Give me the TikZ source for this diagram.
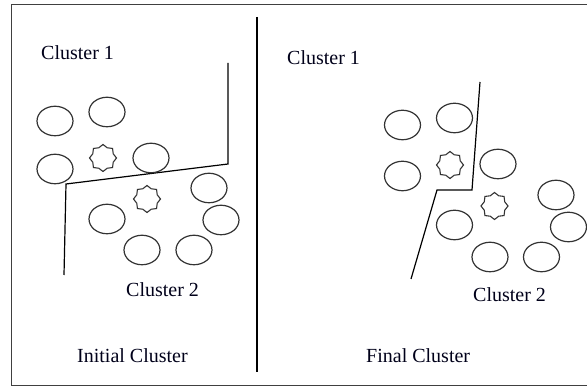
\documentclass[tikz,border=0pt]{standalone}
\usepackage{fontspec}
\setmainfont{Liberation Serif}
\usetikzlibrary{shapes.geometric}
\begin{document}
\begin{tikzpicture}[x=1pt,y=-1pt,
  blob/.style={ellipse, draw=black!80, line width=1.2pt, minimum width=36pt, minimum height=29.5pt, inner sep=0pt},
  spark/.style={star, star points=8, star point ratio=1.22, draw=black!80, line width=1.1pt, minimum size=27pt, inner sep=0pt},
  lbl/.style={font=\fontsize{20}{24}\selectfont, text=black!90!blue, inner sep=0pt, anchor=base west},
  sepline/.style={line width=1.2pt, black}]
\useasboundingbox (0,0) rectangle (587,387);
% frame
\draw[line width=1.3pt, black!75] (587,4.5) -- (11.5,4.5) -- (11.5,385.5) -- (587,385.5);
% divider
\draw[sepline] (257,17) -- (257,372);
% left panel boundary
\draw[sepline] (228,63) -- (228,164) -- (66,184) -- (64,275);
% right panel boundary
\draw[sepline] (480,82) -- (472,190) -- (437,190) -- (411,279);
% left panel points
\node[blob] (l1) at (55,121) {};
\node[blob] (l2) at (107,112) {};
\node[blob] (l3) at (55,169) {};
\node[blob] (l4) at (151,158) {};
\node[blob] (l5) at (209,188) {};
\node[blob] (l6) at (221,220) {};
\node[blob] (l7) at (107,219) {};
\node[blob] (l8) at (142,250) {};
\node[blob] (l9) at (194,250) {};
\node[spark] (ls1) at (103,158) {};
\node[spark] (ls2) at (147,199) {};
% right panel points
\node[blob] (r1) at (402.5,125) {};
\node[blob] (r2) at (454.5,118) {};
\node[blob] (r3) at (402.5,176) {};
\node[blob] (r4) at (498,164) {};
\node[blob] (r5) at (556,195) {};
\node[blob] (r6) at (568.5,227) {};
\node[blob] (r7) at (454.5,225) {};
\node[blob] (r8) at (490,257) {};
\node[blob] (r9) at (541.5,257) {};
\node[spark] (rs1) at (450,165) {};
\node[spark] (rs2) at (494.5,206) {};
% labels
\node[lbl] (t1) at (41,60) {Cluster 1};
\node[lbl] (t2) at (126,297) {Cluster 2};
\node[lbl] (t3) at (77,362.5) {Initial Cluster};
\node[lbl] (t4) at (287,65) {Cluster 1};
\node[lbl] (t5) at (473,301.5) {Cluster 2};
\node[lbl] (t6) at (366,362.5) {Final Cluster};
\end{tikzpicture}
\end{document}
